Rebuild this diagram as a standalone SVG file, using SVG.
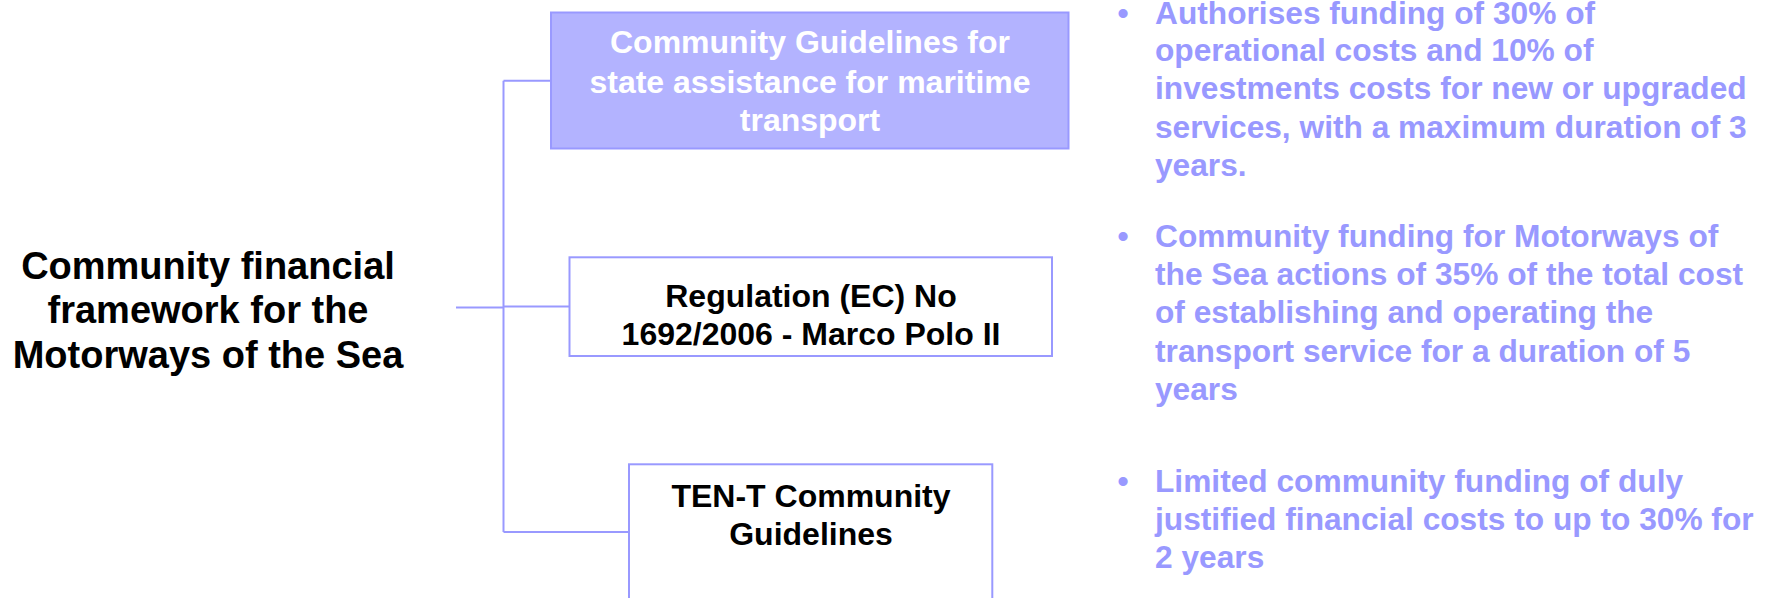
<svg xmlns="http://www.w3.org/2000/svg" width="1769" height="598" viewBox="0 0 1769 598">
<style>
.t{font-family:"Liberation Sans",Arial,sans-serif;font-weight:bold}
.title{font-size:38px;fill:#000;text-anchor:middle}
.box{font-size:32px;text-anchor:middle}
.bul{font-size:31.7px;fill:#9999FF}
.conn{fill:none;stroke:#9999FF;stroke-width:2}
</style>
<rect width="1769" height="598" fill="#fff"/>
<g id="connectors" class="conn">
<path d="M456,307.5 H503.5"/>
<path d="M503.5,80.7 V532"/>
<path d="M503.5,80.7 H551"/>
<path d="M503.5,306.5 H569.5"/>
<path d="M503.5,532 H629"/>
</g>
<g id="root">
<text class="t title" x="208" y="278.5">Community financial</text>
<text class="t title" x="208" y="323">framework for the</text>
<text class="t title" x="208" y="367.5">Motorways of the Sea</text>
</g>
<g id="node-state-assistance">
<rect x="551" y="12.5" width="517.5" height="136" fill="#B3B3FF" stroke="#9999FF" stroke-width="2"/>
<text class="t box" fill="#fff" x="810" y="53.3">Community Guidelines for</text>
<text class="t box" fill="#fff" x="810" y="92.5">state assistance for maritime</text>
<text class="t box" fill="#fff" x="810" y="130.7">transport</text>
</g>
<g id="node-marco-polo">
<rect x="569.5" y="257.3" width="482.5" height="98.7" fill="#fff" stroke="#9999FF" stroke-width="2"/>
<text class="t box" fill="#000" x="811" y="307.3">Regulation (EC) No</text>
<text class="t box" fill="#000" x="811" y="345">1692/2006 - Marco Polo II</text>
</g>
<g id="node-ten-t">
<rect x="629" y="464.3" width="363.3" height="160" fill="#fff" stroke="#9999FF" stroke-width="2"/>
<text class="t box" fill="#000" x="811" y="507.3">TEN-T Community</text>
<text class="t box" fill="#000" x="811" y="545">Guidelines</text>
</g>
<g id="notes">
<text class="t bul" x="1117.5" y="24">•</text>
<text class="t bul" x="1155" y="24">Authorises funding of 30% of</text>
<text class="t bul" x="1155" y="61">operational costs and 10% of</text>
<text class="t bul" x="1155" y="99.3">investments costs for new or upgraded</text>
<text class="t bul" x="1155" y="137.6">services, with a maximum duration of 3</text>
<text class="t bul" x="1155" y="176">years.</text>
<text class="t bul" x="1117.5" y="246.7">•</text>
<text class="t bul" x="1155" y="246.7">Community funding for Motorways of</text>
<text class="t bul" x="1155" y="285">the Sea actions of 35% of the total cost</text>
<text class="t bul" x="1155" y="323.3">of establishing and operating the</text>
<text class="t bul" x="1155" y="361.6">transport service for a duration of 5</text>
<text class="t bul" x="1155" y="400">years</text>
<text class="t bul" x="1117.5" y="491.7">•</text>
<text class="t bul" x="1155" y="491.7">Limited community funding of duly</text>
<text class="t bul" x="1155" y="530">justified financial costs to up to 30% for</text>
<text class="t bul" x="1155" y="568.3">2 years</text>
</g>
</svg>
